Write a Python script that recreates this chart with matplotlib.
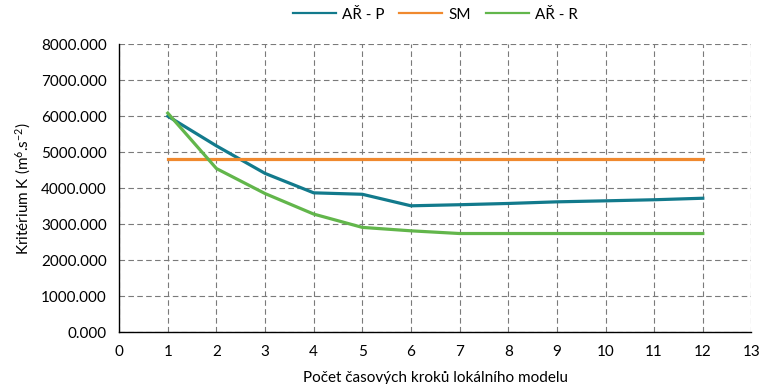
import matplotlib
matplotlib.use('Agg')
import matplotlib.pyplot as plt

plt.rcParams['font.family'] = ['Lato', 'DejaVu Sans']
plt.rcParams['mathtext.fontset'] = 'custom'
plt.rcParams['mathtext.rm'] = 'Lato'
plt.rcParams['mathtext.it'] = 'Lato'

# pocet casovych kroku
kroky = [1, 2, 3, 4, 5, 6, 7, 8, 9, 10, 11, 12]

ar_p = [6000, 5175, 4410, 3870, 3830, 3510, 3540, 3575, 3620, 3648, 3678, 3720]
sm = [4810] * 12
ar_r = [6085, 4545, 3850, 3280, 2910, 2815, 2740, 2740, 2740, 2740, 2740, 2740]

fig, ax = plt.subplots(figsize=(7.59, 3.84), dpi=100)

ax.plot(kroky, ar_p, color='#127a8c', lw=2.3, label='AŘ - P')
ax.plot(kroky, sm, color='#f0892e', lw=2.3, label='SM')
ax.plot(kroky, ar_r, color='#62b64b', lw=2.3, label='AŘ - R')

ax.set_xlim(0, 13)
ax.set_ylim(0, 8000)
ax.set_xticks(range(0, 14))
ax.set_yticks(range(0, 8001, 1000))
ax.set_yticklabels([f'{v:.3f}' for v in range(0, 8001, 1000)])
ax.tick_params(length=0, labelsize=11, pad=9)

ax.grid(True, color='#7a7a7a', linestyle=(0, (5, 3)), linewidth=0.8)
ax.set_axisbelow(True)
for s in ['top', 'right']:
    ax.spines[s].set_visible(False)
ax.spines['left'].set_linewidth(1.0)
ax.spines['bottom'].set_linewidth(1.0)

ax.set_xlabel('Počet časových kroků lokálního modelu', fontsize=11, labelpad=9)
ax.set_ylabel('Kritérium K (m$^{6}$.s$^{-2}$)', fontsize=11, labelpad=6)

leg = ax.legend(loc='lower center', bbox_to_anchor=(0.5, 1.03), ncol=3, frameon=False,
                fontsize=11, handlelength=2.8, columnspacing=1.0, handletextpad=0.4)
for h in leg.get_lines():
    h.set_linewidth(1.6)

fig.subplots_adjust(left=0.157, right=0.99, top=0.885, bottom=0.135)
fig.savefig('out.png', dpi=100)
